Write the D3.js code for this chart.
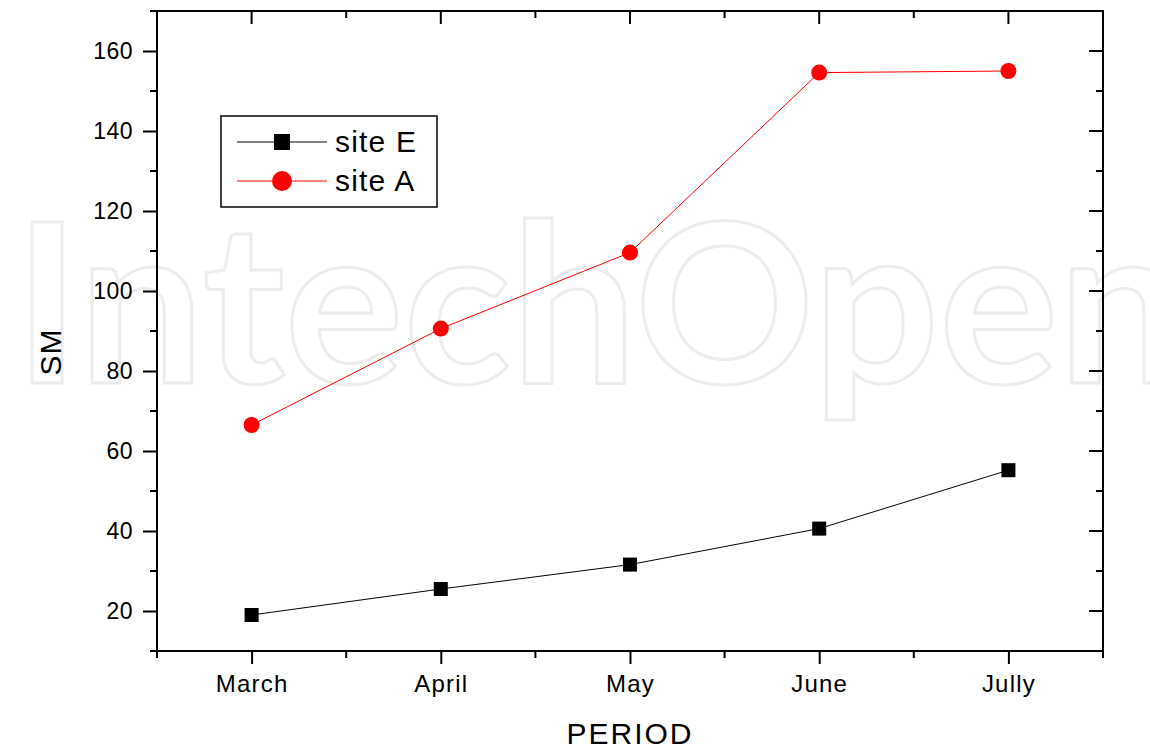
<!DOCTYPE html>
<html>
<head>
<meta charset="utf-8">
<script src="https://cdn.jsdelivr.net/npm/d3@7"></script>
<style>
  body { margin: 0; background: #fff; }
  text { font-family: "Liberation Sans", Arial, sans-serif; }
</style>
</head>
<body>
<div id="chart"></div>
<script>
// data
var months = ["March", "April", "May", "June", "Jully"];
var siteE = [19, 25.5, 31.6, 40.6, 55.2];
var siteA = [66.5, 90.6, 109.6, 154.6, 155];
var yTicks = [20, 40, 60, 80, 100, 120, 140, 160];
var yMinor = [10, 30, 50, 70, 90, 110, 130, 150, 170];

var margin = {top: 11, right: 47, bottom: 99, left: 157},
    width = 1150 - margin.left - margin.right,
    height = 750 - margin.top - margin.bottom;

var svg = d3.select("#chart").append("svg")
    .attr("width", 1150)
    .attr("height", 750);

// watermark
svg.append("text")
    .attr("x", 14)
    .attr("y", 383)
    .attr("textLength", 1170)
    .attr("lengthAdjust", "spacingAndGlyphs")
    .style("font-family", "Lato, 'Open Sans', sans-serif")
    .style("font-size", "222px")
    .style("font-weight", "700")
    .style("fill", "#fff")
    .style("stroke", "#ececec")
    .style("stroke-width", 3)
    .text("IntechOpen");

var g = svg.append("g")
    .attr("transform", "translate(" + margin.left + "," + margin.top + ")");

var x = d3.scalePoint().domain(months).range([0, width]).padding(0.5);
var step = x.step();
var y = d3.scaleLinear().domain([10, 170]).range([height, 0]);

var halfSteps = d3.range(months.length + 1).map(function(i) { return i * step; });

// bottom axis, ticks outside
var bottomAxis = g.append("g").attr("transform", "translate(0," + height + ")");
bottomAxis.selectAll(".minor").data(halfSteps).enter().append("line")
    .attr("x1", function(d) { return d; }).attr("x2", function(d) { return d; })
    .attr("y1", 0).attr("y2", 7)
    .attr("stroke", "#000").attr("stroke-width", 2);
bottomAxis.call(d3.axisBottom(x).tickSize(13).tickPadding(11))
    .call(function(s) { s.select(".domain").remove(); })
    .selectAll("line").attr("stroke-width", 2);
bottomAxis.selectAll("text").style("font-size", "24px").style("letter-spacing", "1.2px").attr("fill", "#000");

// top axis, ticks inside
var topAxis = g.append("g");
topAxis.selectAll(".minor").data(halfSteps).enter().append("line")
    .attr("x1", function(d) { return d; }).attr("x2", function(d) { return d; })
    .attr("y1", 0).attr("y2", 7)
    .attr("stroke", "#000").attr("stroke-width", 2);
topAxis.selectAll(".major").data(months).enter().append("line")
    .attr("x1", function(d) { return x(d); }).attr("x2", function(d) { return x(d); })
    .attr("y1", 0).attr("y2", 13)
    .attr("stroke", "#000").attr("stroke-width", 2);

// left axis, ticks outside
var leftAxis = g.append("g");
leftAxis.selectAll(".minor").data(yMinor).enter().append("line")
    .attr("x1", -7).attr("x2", 0)
    .attr("y1", function(d) { return y(d); }).attr("y2", function(d) { return y(d); })
    .attr("stroke", "#000").attr("stroke-width", 2);
leftAxis.call(d3.axisLeft(y).tickValues(yTicks).tickSize(14).tickPadding(10))
    .call(function(s) { s.select(".domain").remove(); })
    .selectAll("line").attr("stroke-width", 2);
leftAxis.selectAll("text").style("font-size", "23px").style("letter-spacing", "0.5px").attr("fill", "#000");

// right axis, ticks inside
var rightAxis = g.append("g").attr("transform", "translate(" + width + ",0)");
rightAxis.selectAll(".minor").data(yMinor).enter().append("line")
    .attr("x1", -7).attr("x2", 0)
    .attr("y1", function(d) { return y(d); }).attr("y2", function(d) { return y(d); })
    .attr("stroke", "#000").attr("stroke-width", 2);
rightAxis.selectAll(".major").data(yTicks).enter().append("line")
    .attr("x1", -14).attr("x2", 0)
    .attr("y1", function(d) { return y(d); }).attr("y2", function(d) { return y(d); })
    .attr("stroke", "#000").attr("stroke-width", 2);

// frame
g.append("rect")
    .attr("width", width).attr("height", height)
    .attr("fill", "none").attr("stroke", "#000").attr("stroke-width", 2);

// axis titles
svg.append("text")
    .attr("x", margin.left + width / 2)
    .attr("y", 744)
    .attr("text-anchor", "middle")
    .style("font-size", "30px")
    .style("letter-spacing", "2px")
    .text("PERIOD");

svg.append("text")
    .attr("transform", "translate(61," + (margin.top + height / 2 + 21) + ") rotate(-90)")
    .attr("text-anchor", "middle")
    .style("font-size", "30px")
    .style("letter-spacing", "1px")
    .text("SM");

// series
var lineFunc = d3.line()
    .x(function(d, i) { return x(months[i]); })
    .y(function(d) { return y(d); });

g.append("path").datum(siteE)
    .attr("d", lineFunc).attr("fill", "none")
    .attr("stroke", "#000").attr("stroke-width", 1);
g.append("path").datum(siteA)
    .attr("d", lineFunc).attr("fill", "none")
    .attr("stroke", "#ff0000").attr("stroke-width", 1);

g.selectAll(".sq").data(siteE).enter().append("rect")
    .attr("x", function(d, i) { return x(months[i]) - 7; })
    .attr("y", function(d) { return y(d) - 7; })
    .attr("width", 14).attr("height", 14)
    .attr("fill", "#000");

g.selectAll(".dot").data(siteA).enter().append("circle")
    .attr("cx", function(d, i) { return x(months[i]); })
    .attr("cy", function(d) { return y(d); })
    .attr("r", 8)
    .attr("fill", "#ff0000");

// legend
var legend = svg.append("g").attr("transform", "translate(221,116)");
legend.append("rect")
    .attr("width", 216).attr("height", 91)
    .attr("fill", "#fff").attr("stroke", "#000").attr("stroke-width", 1.5);

var legItems = [{name: "site E", color: "#000", shape: "square"},
                {name: "site A", color: "#ff0000", shape: "circle"}];
legItems.forEach(function(it, i) {
    var ly = 26 + i * 39;
    legend.append("line")
        .attr("x1", 16).attr("x2", 106)
        .attr("y1", ly).attr("y2", ly)
        .attr("stroke", it.color).attr("stroke-width", 1);
    if (it.shape === "square") {
        legend.append("rect")
            .attr("x", 53).attr("y", ly - 8)
            .attr("width", 16).attr("height", 16)
            .attr("fill", it.color);
    } else {
        legend.append("circle")
            .attr("cx", 61).attr("cy", ly).attr("r", 10)
            .attr("fill", it.color);
    }
    legend.append("text")
        .attr("x", 114).attr("y", ly + 10)
        .style("font-size", "30px")
        .style("letter-spacing", "1.2px")
        .text(it.name);
});
</script>
</body>
</html>
